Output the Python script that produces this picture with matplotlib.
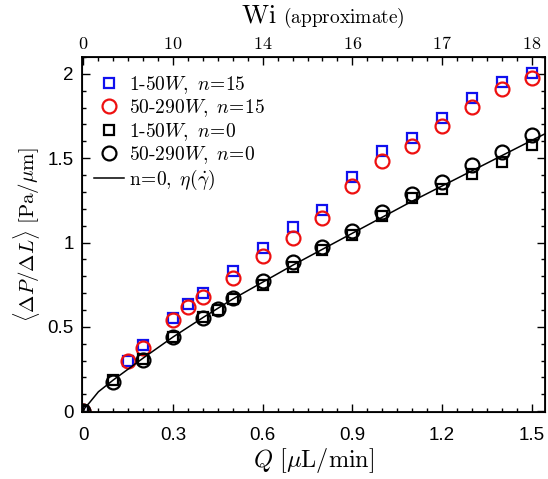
import numpy as np
import matplotlib
matplotlib.use("Agg")
import matplotlib.pyplot as plt
from matplotlib.ticker import MultipleLocator

plt.rcParams['mathtext.fontset'] = 'cm'
plt.rcParams['font.family'] = ['Liberation Sans', 'DejaVu Sans']

# flow rate Q [uL/min]
q_n15 = [0, 0.15, 0.2, 0.3, 0.35, 0.4, 0.5, 0.6, 0.7, 0.8, 0.9, 1.0, 1.1, 1.2, 1.3, 1.4, 1.5]
dp_low_n15 = [0, 0.297, 0.39, 0.55, 0.635, 0.70, 0.83, 0.97, 1.09, 1.195, 1.39, 1.545, 1.62, 1.737, 1.856, 1.954, 2.008]
dp_high_n15 = [0, 0.297, 0.376, 0.54, 0.62, 0.675, 0.79, 0.92, 1.025, 1.147, 1.337, 1.486, 1.571, 1.69, 1.806, 1.909, 1.975]

q_n0 = [0, 0.1, 0.2, 0.3, 0.4, 0.45, 0.5, 0.6, 0.7, 0.8, 0.9, 1.0, 1.1, 1.2, 1.3, 1.4, 1.5]
dp_low_n0 = [0, 0.184, 0.31, 0.44, 0.56, 0.60, 0.665, 0.75, 0.855, 0.955, 1.045, 1.157, 1.262, 1.32, 1.406, 1.48, 1.579]
dp_high_n0 = [0, 0.175, 0.305, 0.44, 0.555, 0.605, 0.67, 0.77, 0.885, 0.975, 1.068, 1.183, 1.288, 1.357, 1.46, 1.535, 1.638]

# model curve n=0, eta(gamma_dot)
q_model = [0, 0.005, 0.02, 0.05, 0.1, 0.2, 0.3, 0.4, 0.5, 0.6, 0.7, 0.8, 0.9, 1.0, 1.1, 1.2, 1.3, 1.4, 1.5, 1.545]
dp_model = [0, 0.02, 0.05, 0.115, 0.185, 0.315, 0.44, 0.555, 0.665, 0.765, 0.865, 0.96, 1.055, 1.15, 1.245, 1.335, 1.425, 1.515, 1.605, 1.645]

x_ticks = [0, 0.3, 0.6, 0.9, 1.2, 1.5]
x_ticklabels = ['0', '0.3', '0.6', '0.9', '1.2', '1.5']
wi_ticklabels = ['0', '10', '14', '16', '17', '18']
y_ticks = [0, 0.5, 1, 1.5, 2]
y_ticklabels = ['0', '0.5', '1', '1.5', '2']

fig = plt.figure(figsize=(5.48, 4.79), dpi=100)
ax = fig.add_axes([0.1496, 0.1399, 0.845, 0.741])

msq = 7.5
mci = 10
mew = 1.6
ax.plot(q_n15, dp_low_n15, ls='none', marker='s', ms=msq, mfc='none', mec='#1010ee', mew=mew,
        label=r'$1\text{-}50W,$ $n\!=\!15$')
ax.plot(q_n15, dp_high_n15, ls='none', marker='o', ms=mci, mfc='none', mec='#ee1010', mew=mew,
        label=r'$50\text{-}290W,$ $n\!=\!15$')
ax.plot(q_n0, dp_low_n0, ls='none', marker='s', ms=msq, mfc='none', mec='black', mew=mew,
        label=r'$1\text{-}50W,$ $n\!=\!0$')
ax.plot(q_n0, dp_high_n0, ls='none', marker='o', ms=mci, mfc='none', mec='black', mew=mew,
        label=r'$50\text{-}290W,$ $n\!=\!0$')
ax.plot(q_model, dp_model, color='black', lw=1.1, label=r'$\mathrm{n\!=\!0},$ $\eta(\dot{\gamma})$')

ax.set_xlim(-0.005, 1.545)
ax.set_ylim(-0.005, 2.1)

ax.set_xticks(x_ticks)
ax.set_xticklabels(x_ticklabels, fontfamily='Liberation Sans')
ax.set_yticks(y_ticks)
ax.set_yticklabels(y_ticklabels, fontfamily='Liberation Sans')
ax.xaxis.set_minor_locator(MultipleLocator(0.05))
ax.yaxis.set_minor_locator(MultipleLocator(0.1))
ax.tick_params(which='both', direction='in', right=True, labelsize=13.5, width=1.0)
ax.tick_params(axis='x', which='major', pad=11)
ax.tick_params(axis='y', which='major', pad=6)
ax.tick_params(which='major', length=6)
ax.tick_params(which='minor', length=3)
for s in ax.spines.values():
    s.set_linewidth(1.3)

ax.set_xlabel(r'$Q\ [\mu\mathrm{L}/\mathrm{min}]$', fontsize=17.5, labelpad=1)
ax.set_ylabel(r'$\langle \Delta P/\Delta L\rangle\ [\mathrm{Pa}/\mu\mathrm{m}]$', fontsize=15, labelpad=4)

top = ax.twiny()
top.set_xlim(ax.get_xlim())
top.set_xticks(x_ticks)
top.set_xticklabels([r'$\mathrm{%s}$' % t for t in wi_ticklabels], fontsize=13)
top.xaxis.set_minor_locator(MultipleLocator(0.05))
top.tick_params(which='both', direction='in', pad=3, width=1.0)
top.tick_params(which='major', length=6)
top.tick_params(which='minor', length=3)
fig.text(0.5055, 0.952, r'$\mathrm{Wi}$', fontsize=19, ha='right', va='baseline')
fig.text(0.516, 0.952, r'$\mathrm{(approximate)}$', fontsize=14, ha='left', va='baseline')

ax.legend(loc='upper left', frameon=False, fontsize=14, handlelength=1.55, handletextpad=0.25,
          labelspacing=0.08, borderaxespad=0.2, bbox_to_anchor=(0.0, 0.986))

fig.savefig('out.png', dpi=100)
